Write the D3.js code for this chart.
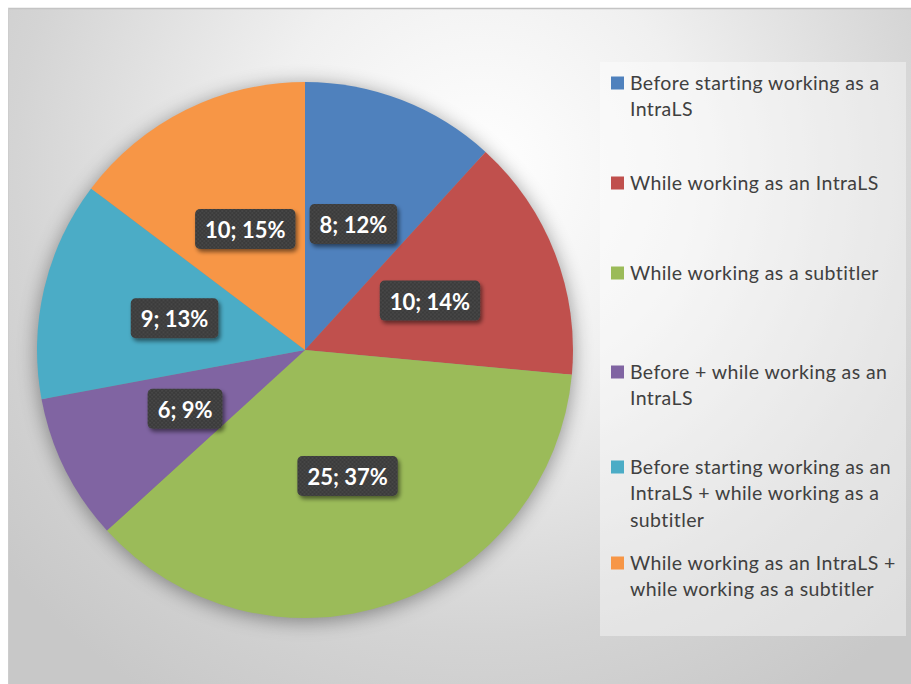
<!DOCTYPE html>
<html>
<head>
<meta charset="utf-8">
<script src="https://cdn.jsdelivr.net/npm/d3@7"></script>
<style>
  html, body { margin: 0; padding: 0; background: #ffffff; }
  svg { display: block; }
</style>
</head>
<body>
<svg id="chart" width="911" height="684"></svg>
<script>
// ---- data ----
const categories = [
  "Before starting working as a IntraLS",
  "While working as an IntraLS",
  "While working as a subtitler",
  "Before + while working as an IntraLS",
  "Before starting working as an IntraLS + while working as a subtitler",
  "While working as an IntraLS + while working as a subtitler"
];
const values = [8, 10, 25, 6, 9, 10];
const percentLabels = ["12%", "14%", "37%", "9%", "13%", "15%"];
const legendLines = [
  ["Before starting working as a", "IntraLS"],
  ["While working as an IntraLS"],
  ["While working as a subtitler"],
  ["Before + while working as an", "IntraLS"],
  ["Before starting working as an", "IntraLS + while working as a", "subtitler"],
  ["While working as an IntraLS +", "while working as a subtitler"]
];
const colors = ["#4F81BD", "#C0504D", "#9BBB59", "#8064A2", "#4BACC6", "#F79646"];

// ---- layout ----
const W = 911, H = 684;
const cx = 305, cy = 350, R = 268;
const legendBox = {x: 600, y: 62, w: 306, h: 574};
const legendFirstLine = [83, 183, 273, 372, 467, 563];
const lineH = 26.5;

const svg = d3.select("#chart");
const defs = svg.append("defs");

const bg = defs.append("radialGradient").attr("id", "bg")
  .attr("gradientUnits", "userSpaceOnUse")
  .attr("cx", 480).attr("cy", 170).attr("r", 620)
  .attr("fx", 480).attr("fy", 170);
bg.append("stop").attr("offset", "0").attr("stop-color", "#ffffff");
bg.append("stop").attr("offset", "0.35").attr("stop-color", "#f0f0f0");
bg.append("stop").attr("offset", "0.75").attr("stop-color", "#d4d4d4");
bg.append("stop").attr("offset", "1").attr("stop-color", "#c8c8c8");

const pieShadow = defs.append("filter").attr("id", "pieShadow")
  .attr("x", "-20%").attr("y", "-20%").attr("width", "140%").attr("height", "140%");
pieShadow.append("feGaussianBlur").attr("in", "SourceAlpha").attr("stdDeviation", 10).attr("result", "b");
pieShadow.append("feOffset").attr("in", "b").attr("dx", 0).attr("dy", 3).attr("result", "o");
pieShadow.append("feComponentTransfer").attr("in", "o")
  .append("feFuncA").attr("type", "linear").attr("slope", 0.4);

const boxShadow = defs.append("filter").attr("id", "boxShadow")
  .attr("x", "-20%").attr("y", "-30%").attr("width", "150%").attr("height", "170%");
boxShadow.append("feGaussianBlur").attr("in", "SourceAlpha").attr("stdDeviation", 2).attr("result", "b");
boxShadow.append("feOffset").attr("in", "b").attr("dx", 2).attr("dy", 3).attr("result", "o");
boxShadow.append("feComponentTransfer").attr("in", "o").attr("result", "s")
  .append("feFuncA").attr("type", "linear").attr("slope", 0.5);
const bm = boxShadow.append("feMerge");
bm.append("feMergeNode").attr("in", "s");
bm.append("feMergeNode").attr("in", "SourceGraphic");

const dots = defs.append("pattern").attr("id", "dots")
  .attr("patternUnits", "userSpaceOnUse").attr("width", 4).attr("height", 4);
dots.append("rect").attr("width", 4).attr("height", 4).attr("fill", "#3b3b3b");
dots.append("circle").attr("cx", 1).attr("cy", 1).attr("r", 0.7).attr("fill", "#5a5a5a");
dots.append("circle").attr("cx", 3).attr("cy", 3).attr("r", 0.7).attr("fill", "#525252");

// frame + background
svg.append("rect").attr("x", 8).attr("y", 8).attr("width", W).attr("height", H)
  .attr("fill", "url(#bg)");
svg.append("line").attr("x1", 8).attr("y1", 8.5).attr("x2", W).attr("y2", 8.5)
  .attr("stroke", "#c4c4c4").attr("stroke-width", 1.5);
svg.append("line").attr("x1", 8.5).attr("y1", 8).attr("x2", 8.5).attr("y2", H)
  .attr("stroke", "#cdcdcd").attr("stroke-width", 1);

// pie
const pie = d3.pie().sort(null).value(d => d)
  .startAngle(0).endAngle(2 * Math.PI);
const arcs = pie(values);
const arc = d3.arc().innerRadius(0).outerRadius(R);

const g = svg.append("g").attr("transform", `translate(${cx},${cy})`);
g.append("circle").attr("r", R).attr("fill", "#888").attr("filter", "url(#pieShadow)");
g.selectAll("path.slice").data(arcs).join("path")
  .attr("class", "slice")
  .attr("d", arc)
  .attr("fill", (d, i) => colors[i]);

// data labels
const labelArc = d3.arc().innerRadius(0).outerRadius(R);
const lg = g.selectAll("g.lbl").data(arcs).join("g")
  .attr("class", "lbl")
  .attr("transform", d => { const c = labelArc.centroid(d); return `translate(${c[0]},${c[1]})`; });
lg.each(function(d, i) {
  const sel = d3.select(this);
  const rect = sel.append("rect");
  const t = sel.append("text")
    .attr("text-anchor", "middle")
    .attr("dy", "0.36em")
    .attr("font-family", "Lato, 'Open Sans', sans-serif")
    .attr("font-weight", "bold")
    .attr("font-size", 22)
    .attr("fill", "#ffffff")
    .text(`${values[i]}; ${percentLabels[i]}`);
  const w = t.node().getComputedTextLength();
  const bw = w + 20, bh = 40;
  rect.attr("x", -bw / 2).attr("y", -bh / 2 - 1).attr("width", bw).attr("height", bh)
    .attr("rx", 5).attr("ry", 5)
    .attr("fill", "url(#dots)")
    .attr("filter", "url(#boxShadow)");
});

// legend
svg.append("rect").attr("x", legendBox.x).attr("y", legendBox.y)
  .attr("width", legendBox.w).attr("height", legendBox.h)
  .attr("fill", "#ffffff").attr("fill-opacity", 0.4);

const leg = svg.append("g");
categories.forEach((c, i) => {
  const y0 = legendFirstLine[i];
  leg.append("rect").attr("x", 611).attr("y", y0 - 6.5).attr("width", 13).attr("height", 13)
    .attr("fill", colors[i]);
  const t = leg.append("text")
    .attr("font-family", "Lato, 'Open Sans', sans-serif")
    .attr("font-size", 19.5)
    .attr("letter-spacing", 0.4)
    .attr("fill", "#404040");
  legendLines[i].forEach((ln, j) => {
    t.append("tspan").attr("x", 630).attr("y", y0 + j * lineH).attr("dy", "0.35em").text(ln);
  });
});
</script>
</body>
</html>
